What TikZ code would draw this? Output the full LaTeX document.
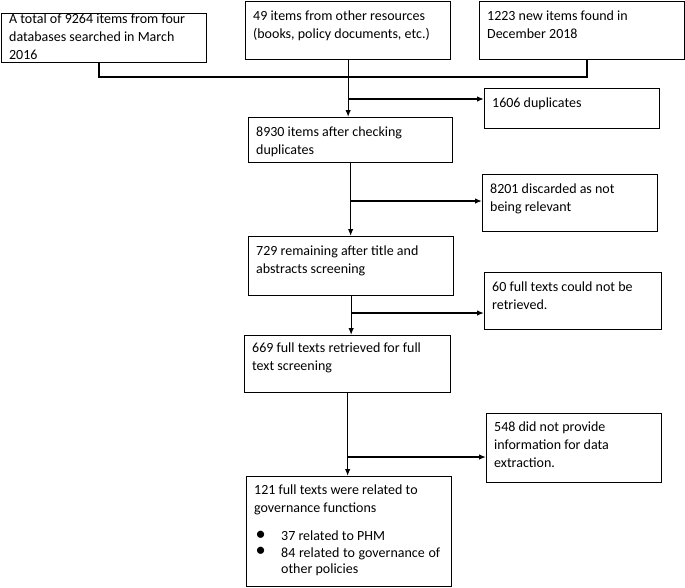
\documentclass[tikz,border=0pt]{standalone}
\usepackage{fontspec}
\setmainfont{Carlito}
\usetikzlibrary{arrows.meta}

\newcommand{\boxtext}[4][18.5pt]{\parbox[c][#3][t]{#2}{\rule{0pt}{#1}#4}}
\newcommand{\bull}{\raisebox{0.3pt}{\scalebox{1.45}{\textbullet}}}

\begin{document}
\begin{tikzpicture}[x=1pt, y=-1pt, line width=1.3pt, >={Latex[length=7pt,width=5.5pt]},
    every node/.style={anchor=north west, inner xsep=7.5pt, inner ysep=0pt, font=\fontsize{14}{18}\selectfont}]
                \useasboundingbox (0,0) rectangle (685,587);
                \node[draw] at (1,13) (dbs) {\boxtext[8.5pt]{190pt}{49pt}{A total of 9264 items from four\\ databases searched in March\\ 2016}};
                \node[draw] at (245,1) (others) {\boxtext{190pt}{58pt}{49 items from other resources\\ (books, policy documents, etc.)}};
                \node[draw] at (479,1) (newitems) {\boxtext{190pt}{58pt}{1223 new items found in\\ December 2018}};
                \node[draw] at (484,88) (dup) {\boxtext{160pt}{40pt}{1606 duplicates}};
                \node[draw] at (248,117) (dedup) {\boxtext[19pt]{189pt}{45pt}{8930 items after checking\\ duplicates}};
                \node[draw] at (482,174) (irrelevant) {\boxtext[19pt]{160pt}{57pt}{8201 discarded as not\\ being relevant}};
                \node[draw] at (248,236) (screened) {\boxtext{190pt}{59pt}{729 remaining after title and\\ abstracts screening}};
                \node[draw] at (484,272) (notret) {\boxtext{162pt}{57pt}{60 full texts could not be\\ retrieved.}};
                \node[draw] at (244,335) (retrieved) {\boxtext[17pt]{191pt}{57pt}{669 full texts retrieved for full\\ text screening}};
                \node[draw] at (486,413) (noinfo) {\boxtext[17.5pt]{160pt}{69pt}{548 did not provide\\ information for data\\ extraction.}};
                \node[draw] at (246,476) (included) {\boxtext[18pt]{190pt}{110pt}{121 full texts were related to\\ governance functions\\[10pt]
                    \makebox[27pt][l]{\hspace{1.5pt}\bull}37 related to PHM\\[-1.5pt]
                    \makebox[27pt][l]{\hspace{1.5pt}\bull}\parbox[t]{159pt}{\fontsize{14}{16.5}\selectfont 84 related to governance of other policies}}};
                % merging the three sources
                \coordinate (join) at (others.south |- 0,77);
                \draw (99,0 |- dbs.south) |- (join) -| (587,0 |- newitems.south);
                \draw (others.south) -- (join);
                % branch points
                \coordinate (b1) at (others.south |- 0,99);
                \coordinate (b2) at (dedup.south |- 0,201);
                \coordinate (b3) at (screened.south |- 0,313);
                \coordinate (b4) at (retrieved.south |- 0,457);
                \path[->]
                    (join)  edge (join |- dedup.north)
                    (b1)  edge (b1 -| dup.west)
                    (dedup.south)  edge (dedup.south |- screened.north)
                    (b2)  edge (b2 -| irrelevant.west)
                    (screened.south)  edge (screened.south |- retrieved.north)
                    (b3)  edge (b3 -| notret.west)
                    (retrieved.south)  edge (retrieved.south |- included.north)
                    (b4)  edge (b4 -| noinfo.west);
            \end{tikzpicture}
\end{document}
